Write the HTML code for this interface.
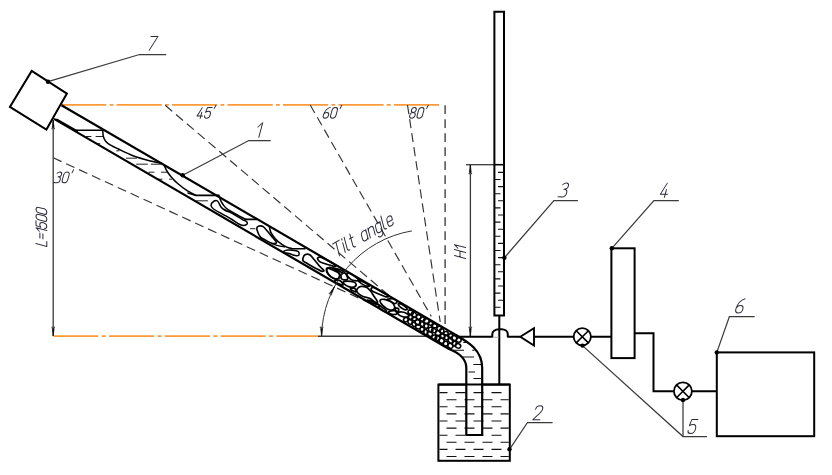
<!DOCTYPE html>
<html><head><meta charset="utf-8"><title>Diagram</title>
<style>
html,body{margin:0;padding:0;background:#fff;font-family:"Liberation Sans",sans-serif;}
svg{display:block}
</style></head>
<body>
<svg width="832" height="475" viewBox="0 0 832 475">
<rect width="832" height="475" fill="#fff"/>
<line x1="61.2" y1="104.85" x2="440" y2="104.85" stroke="#fa9a3a" stroke-width="1.8" stroke-dasharray="45.2 3.2 3.85 3.2"/>
<line x1="53.3" y1="336.2" x2="318" y2="336.2" stroke="#fa9a3a" stroke-width="1.8" stroke-dasharray="45 3.4 4 3.4"/>
<line x1="318" y1="336.3" x2="426" y2="336.3" stroke="#3a3a3a" stroke-width="1.4"/>
<line x1="445.1" y1="105.2" x2="445.1" y2="324.0" stroke="#333" stroke-width="1.3" stroke-dasharray="8.8 5.2"/>
<line x1="407.5" y1="105.0" x2="440.2" y2="322.0" stroke="#333" stroke-width="1.15" stroke-dasharray="9.2 5"/>
<line x1="310.2" y1="105.0" x2="431.3" y2="316.5" stroke="#333" stroke-width="1.15" stroke-dasharray="9.2 5"/>
<line x1="165.2" y1="105.3" x2="391.3" y2="297.5" stroke="#333" stroke-width="1.15" stroke-dasharray="9.2 5"/>
<line x1="53.2" y1="157.8" x2="375.0" y2="305.5" stroke="#333" stroke-width="1.15" stroke-dasharray="9.2 5"/>
<line x1="53.2" y1="120" x2="53.2" y2="336" stroke="#3a3a3a" stroke-width="1.3"/>
<line x1="470.4" y1="165" x2="470.4" y2="336" stroke="#3a3a3a" stroke-width="1.3"/>
<line x1="466" y1="164.7" x2="494" y2="164.7" stroke="#3a3a3a" stroke-width="1.3"/>
<g transform="translate(53.2,120) rotate(0)"><path d="M0,0 L-0.9,7.5 L0.9,7.5 Z" fill="#111" stroke="#111" stroke-width="0.7"/><path d="M-1.8,8.6 H1.8" stroke="#555" stroke-width="1.4"/></g>
<g transform="translate(53.2,336) rotate(180)"><path d="M0,0 L-0.9,7.5 L0.9,7.5 Z" fill="#111" stroke="#111" stroke-width="0.7"/><path d="M-1.8,8.6 H1.8" stroke="#555" stroke-width="1.4"/></g>
<g transform="translate(470.3,165) rotate(0)"><path d="M0,0 L-0.9,7.5 L0.9,7.5 Z" fill="#111" stroke="#111" stroke-width="0.7"/><path d="M-1.8,8.6 H1.8" stroke="#555" stroke-width="1.4"/></g>
<g transform="translate(470.3,336) rotate(180)"><path d="M0,0 L-0.9,7.5 L0.9,7.5 Z" fill="#111" stroke="#111" stroke-width="0.7"/><path d="M-1.8,8.6 H1.8" stroke="#555" stroke-width="1.4"/></g>
<path d="M31.7,70.9 L66.9,93.6 L46.4,129.6 L9.9,106.9 Z" fill="#fff" stroke="#000" stroke-width="2" stroke-linejoin="miter"/>
<rect x="438.4" y="384.6" width="71.4" height="76.2" fill="#fff" stroke="#000" stroke-width="2"/>
<path d="M61.5,105.2 L455,334.4 C468,342.0 482.2,350 482.2,368 V435 H466.3 V368 C466.3,360 462,354 449,349.0 L54.0,118.9" fill="#fff" stroke="none"/>
<line x1="439.5" y1="392.6" x2="508.8" y2="392.6" stroke="#111" stroke-width="1.1" stroke-dasharray="10 8" stroke-dashoffset="2"/>
<line x1="439.5" y1="399.7" x2="508.8" y2="399.7" stroke="#111" stroke-width="1.1" stroke-dasharray="10 8" stroke-dashoffset="11"/>
<line x1="439.5" y1="406.8" x2="508.8" y2="406.8" stroke="#111" stroke-width="1.1" stroke-dasharray="10 8" stroke-dashoffset="2"/>
<line x1="439.5" y1="413.9" x2="508.8" y2="413.9" stroke="#111" stroke-width="1.1" stroke-dasharray="10 8" stroke-dashoffset="11"/>
<line x1="439.5" y1="421.0" x2="508.8" y2="421.0" stroke="#111" stroke-width="1.1" stroke-dasharray="10 8" stroke-dashoffset="2"/>
<line x1="439.5" y1="428.1" x2="508.8" y2="428.1" stroke="#111" stroke-width="1.1" stroke-dasharray="10 8" stroke-dashoffset="11"/>
<line x1="439.5" y1="435.2" x2="508.8" y2="435.2" stroke="#111" stroke-width="1.1" stroke-dasharray="10 8" stroke-dashoffset="2"/>
<line x1="439.5" y1="442.3" x2="508.8" y2="442.3" stroke="#111" stroke-width="1.1" stroke-dasharray="10 8" stroke-dashoffset="11"/>
<line x1="439.5" y1="449.4" x2="508.8" y2="449.4" stroke="#111" stroke-width="1.1" stroke-dasharray="10 8" stroke-dashoffset="2"/>
<line x1="439.5" y1="456.5" x2="508.8" y2="456.5" stroke="#111" stroke-width="1.1" stroke-dasharray="10 8" stroke-dashoffset="11"/>
<line x1="438.4" y1="384.6" x2="509.8" y2="384.6" stroke="#000" stroke-width="2"/>
<path d="M463.3,342.4 H467 M453,350.2 H464 M472.2,350.2 H474.5 M462,357 H474 M473.3,364.5 H481 M468.5,372 H475 M473.5,378.5 H481" stroke="#111" stroke-width="1.1" fill="none"/>
<path d="M75.5,130.3 H102.7" fill="none" stroke="#000" stroke-width="1.6" stroke-linecap="round" stroke-linejoin="round"/>
<path d="M102.7,130.2 C102.8,131.3 102.9,135.0 103.4,136.8 C103.9,138.6 104.6,139.8 105.7,141.2 C106.8,142.5 107.9,143.6 110.1,144.9 C112.3,146.2 115.0,147.5 118.9,149.3 C122.8,151.2 128.7,154.2 133.6,156.0 C138.5,157.8 143.7,159.2 148.4,160.4 C153.1,161.6 159.7,162.9 162.0,163.4" fill="none" stroke="#000" stroke-width="1.5" stroke-linecap="round" stroke-linejoin="round"/>
<path d="M57,119.6 L77,131.2" fill="none" stroke="#000" stroke-width="2.0" stroke-linecap="round" stroke-linejoin="round"/>
<path d="M86.5,136.5 H91 M96,136.5 H102.7 M97.5,143.7 H99.8 M116.7,150.8 H119 M126.3,158.2 H136.6 M136.6,164.2 H147.4 M151.3,164.2 H160.6 M148.8,172.2 H154 M161.4,172.2 H167.2 M157.7,179.2 H162 M169.5,179.2 H171.7 M196.7,200.8 H207.5 M250.5,228.7 H255" fill="none" stroke="#222" stroke-width="1.0" stroke-linecap="round" stroke-linejoin="round"/>
<path d="M164.3,165.6 C164.8,166.6 166.0,169.5 167.2,171.5 C168.4,173.5 169.8,175.3 171.7,177.4 C173.5,179.5 175.7,181.8 178.3,184.0 C180.9,186.2 184.2,188.8 187.1,190.7 C190.0,192.6 194.5,194.5 196.0,195.3" fill="none" stroke="#000" stroke-width="1.5" stroke-linecap="round" stroke-linejoin="round"/>
<path d="M188,193 L196,195.4 H219" fill="none" stroke="#000" stroke-width="1.6" stroke-linecap="round" stroke-linejoin="round"/>
<path d="M219.3,196.5 C219.5,197.1 219.9,198.7 220.5,200.0 C221.1,201.3 222.1,203.2 223.0,204.5 C223.9,205.8 224.5,206.8 226.0,208.0 C227.5,209.2 229.7,210.6 232.0,212.0 C234.3,213.4 237.7,215.2 240.0,216.5 C242.3,217.8 245.0,219.0 246.0,219.5" fill="none" stroke="#000" stroke-width="1.6" stroke-linecap="round" stroke-linejoin="round"/>
<path d="M245.3,219.4 H257" fill="none" stroke="#000" stroke-width="1.6" stroke-linecap="round" stroke-linejoin="round"/>
<path d="M211.0,205.2 C211.0,203.9 212.4,202.2 213.5,201.5 C214.6,200.8 216.2,200.1 217.5,201.0 C218.8,201.9 219.8,205.4 221.0,207.0 C222.2,208.6 223.2,209.2 225.0,210.3 C226.8,211.4 229.2,211.8 232.0,213.3 C234.8,214.8 239.6,217.9 242.0,219.3 C244.4,220.7 245.7,220.7 246.5,221.5 C247.3,222.3 247.7,223.7 246.8,224.3 C245.9,224.9 243.5,225.8 241.0,225.0 C238.5,224.2 235.2,221.4 232.0,219.5 C228.8,217.6 225.1,215.6 222.0,213.8 C218.9,212.1 215.3,210.4 213.5,209.0 C211.7,207.6 211.0,206.4 211.0,205.2 Z" fill="none" stroke="#000" stroke-width="1.5" stroke-linecap="round" stroke-linejoin="round"/>
<path d="M224.5,209.3 L230.5,212" fill="none" stroke="#000" stroke-width="1.0" stroke-linecap="round" stroke-linejoin="round"/>
<path d="M256.8,228.2 C257.0,227.1 257.8,226.4 258.9,226.1 C260.0,225.8 261.7,225.6 263.2,226.6 C264.7,227.6 266.3,230.0 267.9,231.8 C269.5,233.6 271.2,235.9 272.6,237.6 C274.0,239.3 275.9,240.8 276.3,241.8 C276.8,242.8 276.2,243.2 275.3,243.4 C274.4,243.6 272.7,243.4 271.1,242.9 C269.5,242.4 267.6,241.3 265.8,240.3 C264.0,239.3 261.8,238.4 260.5,237.1 C259.2,235.8 258.5,233.9 257.9,232.4 C257.3,230.9 256.6,229.2 256.8,228.2 Z" fill="none" stroke="#000" stroke-width="1.6" stroke-linecap="round" stroke-linejoin="round"/>
<path d="M269.5,227.6 C269.8,228.5 270.1,231.1 271.1,232.9 C272.1,234.8 273.7,236.9 275.3,238.7 C276.9,240.4 278.6,242.0 280.5,243.4 C282.4,244.8 284.9,246.2 286.8,247.1 C288.7,248.0 291.2,248.4 292.1,248.7" fill="none" stroke="#000" stroke-width="1.6" stroke-linecap="round" stroke-linejoin="round"/>
<path d="M292,248.8 H305" fill="none" stroke="#000" stroke-width="1.6" stroke-linecap="round" stroke-linejoin="round"/>
<path d="M272.1,243.6 C273.1,243.9 275.9,245.1 278.0,245.6 C280.1,246.1 283.6,246.6 284.7,246.8" fill="none" stroke="#000" stroke-width="1.3" stroke-linecap="round" stroke-linejoin="round"/>
<path d="M283.7,251.3 C284.3,250.9 285.8,250.0 287.9,249.9 C290.0,249.8 294.5,250.4 296.3,250.8 C298.1,251.2 298.5,251.6 298.9,252.4 C299.2,253.2 299.0,255.0 298.4,255.5 C297.8,256.0 296.9,255.9 295.3,255.6 C293.7,255.3 290.8,254.1 288.9,253.6 C287.0,253.1 285.1,253.0 284.2,252.6 C283.3,252.2 283.1,251.8 283.7,251.3 Z" fill="none" stroke="#000" stroke-width="1.5" stroke-linecap="round" stroke-linejoin="round"/>
<path d="M302.9,258.4 C303.2,257.3 303.9,255.3 305.0,254.7 C306.1,254.1 308.1,253.8 309.7,254.7 C311.3,255.6 312.8,258.1 314.5,260.0 C316.2,261.9 318.1,264.6 319.7,266.3 C321.3,268.1 323.6,269.7 323.9,270.5 C324.2,271.3 322.8,271.5 321.3,271.1 C319.8,270.7 317.3,269.1 315.0,267.9 C312.7,266.7 309.5,264.8 307.6,263.7 C305.7,262.6 304.2,262.0 303.4,261.1 C302.6,260.2 302.6,259.5 302.9,258.4 Z" fill="none" stroke="#000" stroke-width="1.7" stroke-linecap="round" stroke-linejoin="round"/>
<path d="M317.6,257.9 C318.1,257.5 319.5,256.9 321.3,257.4 C323.1,257.9 326.3,259.8 328.7,261.1 C331.1,262.4 334.6,264.4 335.5,265.3 C336.4,266.2 335.4,266.5 333.9,266.3 C332.4,266.1 328.9,264.9 326.6,264.2 C324.3,263.5 321.7,262.8 320.3,262.1 C318.9,261.4 318.6,260.7 318.2,260.0 C317.8,259.3 317.1,258.3 317.6,257.9 Z" fill="none" stroke="#000" stroke-width="1.7" stroke-linecap="round" stroke-linejoin="round"/>
<path d="M326.6,269.5 C327.0,268.6 328.3,267.4 329.7,267.4 C331.1,267.4 333.4,268.4 335.0,269.5 C336.6,270.6 338.6,272.3 339.2,273.7 C339.8,275.1 339.4,277.0 338.7,277.9 C338.0,278.8 336.4,279.2 335.0,278.9 C333.6,278.6 331.6,277.4 330.3,276.3 C329.0,275.2 327.7,273.7 327.1,272.6 C326.5,271.5 326.2,270.4 326.6,269.5 Z" fill="none" stroke="#000" stroke-width="1.7" stroke-linecap="round" stroke-linejoin="round"/>
<path d="M327.1,268.1 C328.6,267.8 335.4,271.2 337.6,272.3 C339.8,273.4 339.9,273.8 340.2,274.8 C340.5,275.8 340.4,277.6 339.3,278.2 C338.2,278.8 335.2,278.9 333.4,278.2 C331.6,277.5 329.4,275.7 328.4,274.0 C327.3,272.3 325.6,268.4 327.1,268.1 Z" fill="none" stroke="#000" stroke-width="1.7" stroke-linecap="round" stroke-linejoin="round"/>
<path d="M333.4,268.1 C333.8,268.0 338.4,269.2 340.2,269.8 C342.0,270.4 344.0,271.4 344.4,271.9 C344.8,272.4 343.8,272.9 342.7,272.7 C341.6,272.5 339.2,271.4 337.6,270.6 C336.1,269.8 333.0,268.2 333.4,268.1 Z" fill="none" stroke="#000" stroke-width="1.7" stroke-linecap="round" stroke-linejoin="round"/>
<path d="M341.8,274.0 C342.5,273.5 344.2,272.5 345.2,273.2 C346.2,273.9 347.5,277.1 347.7,278.2 C347.9,279.3 347.1,279.8 346.1,279.9 C345.1,280.0 342.7,279.7 341.8,279.1 C340.9,278.5 341.0,277.0 341.0,276.1 C341.0,275.2 341.1,274.5 341.8,274.0 Z" fill="none" stroke="#000" stroke-width="1.7" stroke-linecap="round" stroke-linejoin="round"/>
<path d="M346.9,273.2 C347.4,272.9 348.6,272.8 350.3,273.6 C352.0,274.4 355.6,277.1 357.0,278.2 C358.4,279.3 359.4,279.9 358.7,280.3 C358.0,280.7 354.4,280.7 352.8,280.3 C351.2,279.9 350.3,279.0 349.4,278.2 C348.5,277.4 347.7,276.5 347.3,275.7 C346.9,274.9 346.4,273.5 346.9,273.2 Z" fill="none" stroke="#000" stroke-width="1.7" stroke-linecap="round" stroke-linejoin="round"/>
<path d="M343.1,282.0 C343.5,281.5 345.1,281.2 346.9,281.2 C348.6,281.2 352.1,281.4 353.6,282.0 C355.2,282.6 356.2,283.6 356.2,284.5 C356.2,285.4 354.9,286.8 353.6,287.1 C352.3,287.5 350.1,287.1 348.6,286.6 C347.1,286.1 345.3,284.9 344.4,284.1 C343.5,283.3 342.7,282.5 343.1,282.0 Z" fill="none" stroke="#000" stroke-width="1.7" stroke-linecap="round" stroke-linejoin="round"/>
<path d="M335.1,280.3 C335.8,280.0 338.9,279.9 340.2,280.7 C341.5,281.5 343.2,284.3 343.1,284.9 C343.0,285.5 340.9,284.5 339.7,284.1 C338.5,283.7 336.7,283.0 335.9,282.4 C335.1,281.8 334.4,280.6 335.1,280.3 Z" fill="none" stroke="#000" stroke-width="1.7" stroke-linecap="round" stroke-linejoin="round"/>
<path d="M357.8,280.3 C358.0,280.0 361.0,280.8 362.9,281.6 C364.8,282.4 368.2,284.5 369.0,285.3 C369.8,286.1 368.8,286.6 367.5,286.3 C366.2,286.0 363.1,284.6 361.5,283.6 C359.9,282.6 357.6,280.6 357.8,280.3 Z" fill="none" stroke="#000" stroke-width="1.7" stroke-linecap="round" stroke-linejoin="round"/>
<path d="M350.3,288.7 C350.6,288.3 353.5,287.8 354.5,288.3 C355.5,288.8 356.5,291.3 356.2,291.7 C355.9,292.1 353.8,291.3 352.8,290.8 C351.8,290.3 350.0,289.1 350.3,288.7 Z" fill="none" stroke="#000" stroke-width="1.7" stroke-linecap="round" stroke-linejoin="round"/>
<path d="M357.2,288.9 C357.8,287.9 359.3,286.6 360.9,286.4 C362.5,286.2 365.2,286.8 366.8,287.6 C368.4,288.4 369.2,289.5 370.5,291.0 C371.8,292.5 373.1,295.0 374.3,296.8 C375.5,298.6 377.5,301.0 377.6,301.9 C377.7,302.8 376.4,302.9 375.1,302.3 C373.9,301.7 372.2,299.5 370.1,298.5 C368.0,297.5 364.5,297.2 362.4,296.2 C360.3,295.2 358.3,293.8 357.4,292.6 C356.5,291.4 356.6,289.9 357.2,288.9 Z" fill="none" stroke="#000" stroke-width="1.7" stroke-linecap="round" stroke-linejoin="round"/>
<path d="M371.3,288.4 C371.7,287.8 372.6,287.0 374.3,287.6 C376.1,288.2 379.4,290.5 381.8,291.8 C384.2,293.1 387.9,294.8 388.6,295.6 C389.3,296.4 387.9,297.2 386.1,296.8 C384.3,296.4 379.9,294.5 377.6,293.5 C375.3,292.5 373.2,291.8 372.2,290.9 C371.1,290.0 370.9,288.9 371.3,288.4 Z" fill="none" stroke="#000" stroke-width="1.7" stroke-linecap="round" stroke-linejoin="round"/>
<path d="M380.2,300.2 C380.8,299.6 382.6,299.1 384.4,299.4 C386.2,299.7 389.4,300.8 391.1,301.9 C392.8,303.0 394.1,304.8 394.5,306.1 C394.9,307.4 394.6,308.9 393.6,309.5 C392.6,310.1 390.3,310.1 388.6,309.5 C386.9,308.9 384.8,307.2 383.5,306.1 C382.2,305.0 381.2,303.7 380.6,302.7 C380.1,301.7 379.6,300.8 380.2,300.2 Z" fill="none" stroke="#000" stroke-width="1.7" stroke-linecap="round" stroke-linejoin="round"/>
<path d="M387.3,299.4 C387.7,299.0 392.0,298.5 393.6,298.9 C395.2,299.3 396.9,301.1 397.0,301.9 C397.1,302.7 395.5,303.7 394.5,303.6 C393.5,303.5 392.3,302.2 391.1,301.5 C389.9,300.8 386.9,299.8 387.3,299.4 Z" fill="none" stroke="#000" stroke-width="1.7" stroke-linecap="round" stroke-linejoin="round"/>
<path d="M398.7,303.6 C399.3,303.5 400.7,303.6 402.1,304.4 C403.5,305.2 406.6,307.7 407.1,308.6 C407.7,309.5 406.4,310.0 405.4,309.9 C404.4,309.8 402.3,308.6 401.2,307.8 C400.1,307.0 399.1,306.0 398.7,305.3 C398.3,304.6 398.1,303.8 398.7,303.6 Z" fill="none" stroke="#000" stroke-width="1.7" stroke-linecap="round" stroke-linejoin="round"/>
<path d="M388.6,311.6 C389.3,311.1 393.1,310.4 394.5,310.7 C395.9,311.0 397.1,313.1 397.0,313.7 C396.9,314.3 394.7,314.5 393.6,314.5 C392.5,314.5 391.1,314.2 390.3,313.7 C389.5,313.2 387.9,312.1 388.6,311.6 Z" fill="none" stroke="#000" stroke-width="1.7" stroke-linecap="round" stroke-linejoin="round"/>
<path d="M397.8,312.8 C398.2,312.2 400.6,311.9 402.1,312.0 C403.7,312.1 406.0,313.0 407.1,313.7 C408.2,314.4 409.2,315.6 408.8,316.2 C408.4,316.8 406.2,317.2 404.6,317.1 C403.1,317.0 400.6,316.1 399.5,315.4 C398.4,314.7 397.4,313.4 397.8,312.8 Z" fill="none" stroke="#000" stroke-width="1.7" stroke-linecap="round" stroke-linejoin="round"/>
<path d="M367.5,300.2 C368.2,300.1 372.6,301.3 374.3,301.9 C376.0,302.5 377.2,303.2 377.6,303.6 C378.0,304.0 378.1,304.6 376.8,304.4 C375.6,304.2 371.7,303.0 370.1,302.3 C368.6,301.6 366.8,300.3 367.5,300.2 Z" fill="none" stroke="#000" stroke-width="1.7" stroke-linecap="round" stroke-linejoin="round"/>
<path d="M395.3,307.8 C395.8,307.6 398.3,308.5 398.7,309.1 C399.1,309.7 398.3,311.4 397.8,311.6 C397.3,311.8 396.1,310.9 395.7,310.3 C395.3,309.7 394.8,308.0 395.3,307.8 Z" fill="none" stroke="#000" stroke-width="1.7" stroke-linecap="round" stroke-linejoin="round"/>
<path d="M378.5,304.5 C378.9,304.3 381.2,306.5 382.5,307.5 C383.8,308.5 386.2,309.8 386.5,310.5 C386.8,311.2 385.6,311.8 384.5,311.5 C383.4,311.2 381.0,309.7 380.0,308.5 C379.0,307.3 378.1,304.7 378.5,304.5 Z" fill="none" stroke="#000" stroke-width="1.7" stroke-linecap="round" stroke-linejoin="round"/>
<ellipse cx="410.7" cy="312.3" rx="2.8" ry="2.1" transform="rotate(31 410.7 312.3)" fill="none" stroke="#000" stroke-width="1.55"/>
<ellipse cx="410.7" cy="317.1" rx="2.5" ry="2.2" transform="rotate(53 410.7 317.1)" fill="none" stroke="#000" stroke-width="1.55"/>
<ellipse cx="405.8" cy="319.7" rx="2.1" ry="2.3" transform="rotate(45 405.8 319.7)" fill="none" stroke="#000" stroke-width="1.55"/>
<ellipse cx="413.9" cy="314.7" rx="2.9" ry="2.2" transform="rotate(39 413.9 314.7)" fill="none" stroke="#000" stroke-width="1.55"/>
<ellipse cx="414.3" cy="318.9" rx="2.5" ry="1.8" transform="rotate(5 414.3 318.9)" fill="none" stroke="#000" stroke-width="1.55"/>
<ellipse cx="410.1" cy="321.8" rx="2.4" ry="2.1" transform="rotate(57 410.1 321.8)" fill="none" stroke="#000" stroke-width="1.55"/>
<ellipse cx="418.6" cy="317.0" rx="2.4" ry="2.2" transform="rotate(27 418.6 317.0)" fill="none" stroke="#000" stroke-width="1.55"/>
<ellipse cx="417.8" cy="322.4" rx="2.9" ry="2.3" transform="rotate(47 417.8 322.4)" fill="none" stroke="#000" stroke-width="1.55"/>
<ellipse cx="414.0" cy="324.4" rx="2.3" ry="1.8" transform="rotate(51 414.0 324.4)" fill="none" stroke="#000" stroke-width="1.55"/>
<ellipse cx="422.4" cy="319.5" rx="2.3" ry="2.4" transform="rotate(58 422.4 319.5)" fill="none" stroke="#000" stroke-width="1.55"/>
<ellipse cx="421.9" cy="323.7" rx="2.8" ry="2.1" transform="rotate(68 421.9 323.7)" fill="none" stroke="#000" stroke-width="1.55"/>
<ellipse cx="418.2" cy="326.6" rx="2.6" ry="2.3" transform="rotate(12 418.2 326.6)" fill="none" stroke="#000" stroke-width="1.55"/>
<ellipse cx="426.3" cy="321.0" rx="2.9" ry="2.3" transform="rotate(-1 426.3 321.0)" fill="none" stroke="#000" stroke-width="1.55"/>
<ellipse cx="426.3" cy="326.0" rx="2.1" ry="2.3" transform="rotate(4 426.3 326.0)" fill="none" stroke="#000" stroke-width="1.55"/>
<ellipse cx="422.1" cy="329.4" rx="2.2" ry="2.2" transform="rotate(0 422.1 329.4)" fill="none" stroke="#000" stroke-width="1.55"/>
<ellipse cx="431.0" cy="323.5" rx="2.4" ry="1.9" transform="rotate(12 431.0 323.5)" fill="none" stroke="#000" stroke-width="1.55"/>
<ellipse cx="430.7" cy="329.6" rx="2.3" ry="2.3" transform="rotate(7 430.7 329.6)" fill="none" stroke="#000" stroke-width="1.55"/>
<ellipse cx="425.7" cy="332.1" rx="2.6" ry="1.9" transform="rotate(69 425.7 332.1)" fill="none" stroke="#000" stroke-width="1.55"/>
<ellipse cx="434.4" cy="325.7" rx="2.7" ry="2.0" transform="rotate(14 434.4 325.7)" fill="none" stroke="#000" stroke-width="1.55"/>
<ellipse cx="434.0" cy="330.5" rx="2.5" ry="1.9" transform="rotate(38 434.0 330.5)" fill="none" stroke="#000" stroke-width="1.55"/>
<ellipse cx="429.9" cy="333.9" rx="2.9" ry="2.1" transform="rotate(36 429.9 333.9)" fill="none" stroke="#000" stroke-width="1.55"/>
<ellipse cx="439.2" cy="328.4" rx="2.1" ry="2.3" transform="rotate(55 439.2 328.4)" fill="none" stroke="#000" stroke-width="1.55"/>
<ellipse cx="438.1" cy="333.1" rx="2.7" ry="2.4" transform="rotate(6 438.1 333.1)" fill="none" stroke="#000" stroke-width="1.55"/>
<ellipse cx="434.3" cy="337.1" rx="2.5" ry="2.1" transform="rotate(-2 434.3 337.1)" fill="none" stroke="#000" stroke-width="1.55"/>
<ellipse cx="441.7" cy="330.9" rx="2.2" ry="2.2" transform="rotate(11 441.7 330.9)" fill="none" stroke="#000" stroke-width="1.55"/>
<ellipse cx="442.6" cy="336.2" rx="2.3" ry="1.9" transform="rotate(48 442.6 336.2)" fill="none" stroke="#000" stroke-width="1.55"/>
<ellipse cx="437.6" cy="338.1" rx="2.5" ry="2.3" transform="rotate(39 437.6 338.1)" fill="none" stroke="#000" stroke-width="1.55"/>
<ellipse cx="446.0" cy="333.3" rx="2.2" ry="1.8" transform="rotate(12 446.0 333.3)" fill="none" stroke="#000" stroke-width="1.55"/>
<ellipse cx="446.4" cy="337.7" rx="2.2" ry="2.0" transform="rotate(36 446.4 337.7)" fill="none" stroke="#000" stroke-width="1.55"/>
<ellipse cx="441.5" cy="340.6" rx="2.8" ry="2.4" transform="rotate(43 441.5 340.6)" fill="none" stroke="#000" stroke-width="1.55"/>
<ellipse cx="450.7" cy="335.6" rx="2.1" ry="1.8" transform="rotate(-9 450.7 335.6)" fill="none" stroke="#000" stroke-width="1.55"/>
<ellipse cx="450.6" cy="341.0" rx="2.9" ry="1.8" transform="rotate(41 450.6 341.0)" fill="none" stroke="#000" stroke-width="1.55"/>
<ellipse cx="445.7" cy="343.6" rx="2.3" ry="2.4" transform="rotate(-4 445.7 343.6)" fill="none" stroke="#000" stroke-width="1.55"/>
<ellipse cx="454.4" cy="338.0" rx="2.8" ry="2.2" transform="rotate(46 454.4 338.0)" fill="none" stroke="#000" stroke-width="1.55"/>
<ellipse cx="454.3" cy="343.5" rx="2.3" ry="2.2" transform="rotate(62 454.3 343.5)" fill="none" stroke="#000" stroke-width="1.55"/>
<ellipse cx="450.4" cy="345.8" rx="2.7" ry="2.3" transform="rotate(36 450.4 345.8)" fill="none" stroke="#000" stroke-width="1.55"/>
<ellipse cx="458.7" cy="340.0" rx="2.5" ry="2.2" transform="rotate(-4 458.7 340.0)" fill="none" stroke="#000" stroke-width="1.55"/>
<ellipse cx="458.0" cy="345.8" rx="2.8" ry="2.2" transform="rotate(21 458.0 345.8)" fill="none" stroke="#000" stroke-width="1.55"/>
<path d="M61.5,105.2 L455,334.4 C468,342.0 482.2,350 482.2,368 V435 H466.3 V368 C466.3,360 462,354 449,349.0 L54.0,118.9" fill="none" stroke="#000" stroke-width="2.2" stroke-linejoin="round"/>
<path d="M494.4,315.5 V11.8 H504 V315.5 Z" fill="none" stroke="#000" stroke-width="2"/>
<line x1="494.4" y1="164.7" x2="504" y2="164.7" stroke="#000" stroke-width="1.6"/>
<path d="M498,172.4 H504 M494.4,179.5 H500.5 M498,186.6 H504 M494.4,193.7 H500.5 M498,200.8 H504 M494.4,207.9 H500.5 M498,215.0 H504 M494.4,222.1 H500.5 M498,229.2 H504 M494.4,236.3 H500.5 M498,243.4 H504 M494.4,250.5 H500.5 M498,257.6 H504 M494.4,264.7 H500.5 M498,271.8 H504 M494.4,278.9 H500.5 M498,286.0 H504 M494.4,293.1 H500.5 M498,300.2 H504 M494.4,307.3 H500.5" stroke="#111" stroke-width="1.1"/>
<line x1="499.3" y1="315.5" x2="499.3" y2="384.8" stroke="#000" stroke-width="2"/>
<path d="M459,336.8 H492.3 V334 C492.3,331.5 495,329.3 499,329.3 H501.5 C505,329.3 507.8,331.2 507.8,334.5 V336.8 H520" fill="none" stroke="#000" stroke-width="2" stroke-linejoin="round"/>
<path d="M492.3,337.3 H499" stroke="#999" stroke-width="0.8"/>
<path d="M520.3,336.8 L534,328.3 V345.6 Z" fill="#fff" stroke="#000" stroke-width="1.9" stroke-linejoin="miter"/>
<path d="M534.2,336.8 H573.7 M590.9,336.8 H611.2" stroke="#000" stroke-width="2"/>
<circle cx="582.3" cy="336.8" r="8.6" fill="#fff" stroke="#000" stroke-width="1.8"/>
<path d="M576.2,330.7 L588.4,342.9 M576.2,342.9 L588.4,330.7" stroke="#000" stroke-width="1.6"/>
<rect x="611.4" y="248.3" width="23.2" height="109.8" fill="#fff" stroke="#000" stroke-width="2"/>
<path d="M634.6,333.3 H653.5 V391.2 H673.9 M691.9,391.2 H716.8" fill="none" stroke="#000" stroke-width="2"/>
<circle cx="682.9" cy="391.3" r="9" fill="#fff" stroke="#000" stroke-width="1.8"/>
<path d="M676.5,384.9 L689.3,397.7 M676.5,397.7 L689.3,384.9" stroke="#000" stroke-width="1.6"/>
<rect x="716.8" y="352.4" width="97.4" height="83.8" fill="#fff" stroke="#000" stroke-width="2"/>
<path d="M48.0,81.7 L139.5,54.5 L166.2,54.5" fill="none" stroke="#3a3a3a" stroke-width="1.25"/>
<circle cx="48" cy="81.7" r="2.2" fill="#000"/>
<path d="M182.7,175.2 L248.8,140.5 L270.7,140.5" fill="none" stroke="#3a3a3a" stroke-width="1.25"/>
<circle cx="182.7" cy="175.2" r="2.2" fill="#000"/>
<path d="M504.4,257.7 L553.9,200.5 L577.9,200.5" fill="none" stroke="#3a3a3a" stroke-width="1.25"/>
<circle cx="504.4" cy="257.7" r="2.2" fill="#000"/>
<path d="M611.8,248.3 L653.9,200.5 L678.8,200.5" fill="none" stroke="#3a3a3a" stroke-width="1.25"/>
<circle cx="611.8" cy="248.3" r="2.2" fill="#000"/>
<path d="M716.8,352.4 L729.4,316.5 L754.7,316.5" fill="none" stroke="#3a3a3a" stroke-width="1.25"/>
<circle cx="716.8" cy="352.4" r="2.2" fill="#000"/>
<path d="M582.5,345.6 L683.0,436.5 L707.0,436.5" fill="none" stroke="#3a3a3a" stroke-width="1.25"/>
<circle cx="582.5" cy="345.6" r="2.2" fill="#000"/>
<path d="M683.0,400.0 L683.0,436.5" fill="none" stroke="#3a3a3a" stroke-width="1.25"/>
<circle cx="683" cy="400" r="2.2" fill="#000"/>
<path d="M509.5,449.3 L527.5,422.5 L552.6,422.5" fill="none" stroke="#3a3a3a" stroke-width="1.25"/>
<circle cx="509.5" cy="449.3" r="2.2" fill="#000"/>
<path d="M321.6,336.3 A108.4,108.4 0 0 1 411.9,230.9" fill="none" stroke="#333" stroke-width="1"/>
<g transform="translate(321.6,336) rotate(180)"><path d="M0,0 L-0.9,7.5 L0.9,7.5 Z" fill="#111" stroke="#111" stroke-width="0.7"/><path d="M-1.8,8.6 H1.8" stroke="#555" stroke-width="1.4"/></g>
<g transform="translate(334.55625487960685,286.4088381392926) rotate(28.3)"><path d="M0,0 L-0.9,7.5 L0.9,7.5 Z" fill="#111" stroke="#111" stroke-width="0.7"/><path d="M-1.8,8.6 H1.8" stroke="#555" stroke-width="1.4"/></g>
<g transform="translate(147.20,50.40) rotate(0) scale(1.4000) skewX(-15) translate(0,-10)" fill="none" stroke="#2a2a38" stroke-width="0.714" stroke-linecap="round" stroke-linejoin="round">
<path transform="translate(0.00,0)" d="M0,0 H5 L1.4,10"/>
</g>
<g transform="translate(255.20,137.20) rotate(0) scale(1.4500) skewX(-15) translate(0,-10)" fill="none" stroke="#2a2a38" stroke-width="0.690" stroke-linecap="round" stroke-linejoin="round">
<path transform="translate(0.00,0)" d="M0,3 L2.5,0 V10"/>
</g>
<g transform="translate(558.60,197.00) rotate(0) scale(1.4000) skewX(-15) translate(0,-10)" fill="none" stroke="#2a2a38" stroke-width="0.714" stroke-linecap="round" stroke-linejoin="round">
<path transform="translate(0.00,0)" d="M0.6,1.2 C1,0.4 1.8,0 2.8,0 C4.1,0 4.9,0.9 4.9,2.2 C4.9,3.6 3.9,4.5 2.3,4.5 C4,4.5 5,5.6 5,7.2 C5,8.9 4,10 2.5,10 C1.2,10 0.3,9.6 -0.6,9.9"/>
</g>
<g transform="translate(659.50,197.30) rotate(0) scale(1.4000) skewX(-15) translate(0,-10)" fill="none" stroke="#2a2a38" stroke-width="0.714" stroke-linecap="round" stroke-linejoin="round">
<path transform="translate(0.00,0)" d="M2.8,0 L0,7.9 H5.1 M3.5,4.5 V10"/>
</g>
<g transform="translate(734.80,313.00) rotate(0) scale(1.4000) skewX(-15) translate(0,-10)" fill="none" stroke="#2a2a38" stroke-width="0.714" stroke-linecap="round" stroke-linejoin="round">
<path transform="translate(0.00,0)" d="M4.6,-0.2 C2.4,0.5 0.3,3 0,7 C0,9 1,10 2.5,10 C4,10 5,9 5,7.3 C5,5.6 4,4.6 2.6,4.6 C1.4,4.6 0.4,5.3 0.1,6.5"/>
</g>
<g transform="translate(687.30,433.50) rotate(0) scale(1.4000) skewX(-15) translate(0,-10)" fill="none" stroke="#2a2a38" stroke-width="0.714" stroke-linecap="round" stroke-linejoin="round">
<path transform="translate(0.00,0)" d="M5,0 H0.6 L0,4.4 C0.8,3.8 1.6,3.5 2.6,3.5 C4,3.5 5,4.8 5,6.8 C5,8.8 4,10 2.5,10 C1,10 0,9 0,7.8"/>
</g>
<g transform="translate(532.80,419.70) rotate(0) scale(1.4000) skewX(-15) translate(0,-10)" fill="none" stroke="#2a2a38" stroke-width="0.714" stroke-linecap="round" stroke-linejoin="round">
<path transform="translate(0.00,0)" d="M0,2.5 C0,1 1,0 2.5,0 C4,0 5,1 5,2.5 C5,4.5 3,6 0,10 H5"/>
</g>
<g transform="translate(196.50,118.20) rotate(0) scale(1.0600) skewX(-15) translate(0,-10)" fill="none" stroke="#2a2a38" stroke-width="0.943" stroke-linecap="round" stroke-linejoin="round">
<path transform="translate(0.00,0)" d="M2.8,0 L0,7.9 H5.1 M3.5,4.5 V10"/>
<path transform="translate(7.10,0)" d="M5,0 H0.6 L0,4.4 C0.8,3.8 1.6,3.5 2.6,3.5 C4,3.5 5,4.8 5,6.8 C5,8.8 4,10 2.5,10 C1,10 0,9 0,7.8"/>
<path transform="translate(14.10,0)" d="M0.9,-2.2 L0.2,0.8"/>
</g>
<g transform="translate(322.50,118.20) rotate(0) scale(1.0600) skewX(-15) translate(0,-10)" fill="none" stroke="#2a2a38" stroke-width="0.943" stroke-linecap="round" stroke-linejoin="round">
<path transform="translate(0.00,0)" d="M4.6,-0.2 C2.4,0.5 0.3,3 0,7 C0,9 1,10 2.5,10 C4,10 5,9 5,7.3 C5,5.6 4,4.6 2.6,4.6 C1.4,4.6 0.4,5.3 0.1,6.5"/>
<path transform="translate(7.00,0)" d="M2.5,0 C1,0 0,1 0,2.5 V7.5 C0,9 1,10 2.5,10 C4,10 5,9 5,7.5 V2.5 C5,1 4,0 2.5,0 Z"/>
<path transform="translate(14.00,0)" d="M0.9,-2.2 L0.2,0.8"/>
</g>
<g transform="translate(409.00,118.20) rotate(0) scale(1.0600) skewX(-15) translate(0,-10)" fill="none" stroke="#2a2a38" stroke-width="0.943" stroke-linecap="round" stroke-linejoin="round">
<path transform="translate(0.00,0)" d="M2.5,0 C1,0 0.3,1 0.3,2.3 C0.3,3.6 1,4.6 2.5,4.6 C4,4.6 4.7,3.6 4.7,2.3 C4.7,1 4,0 2.5,0 Z M2.5,4.6 C1,4.6 0,5.6 0,7.3 C0,9 1,10 2.5,10 C4,10 5,9 5,7.3 C5,5.6 4,4.6 2.5,4.6 Z"/>
<path transform="translate(7.00,0)" d="M2.5,0 C1,0 0,1 0,2.5 V7.5 C0,9 1,10 2.5,10 C4,10 5,9 5,7.5 V2.5 C5,1 4,0 2.5,0 Z"/>
<path transform="translate(14.00,0)" d="M0.9,-2.2 L0.2,0.8"/>
</g>
<g transform="translate(54.00,182.80) rotate(0) scale(1.0800) skewX(-15) translate(0,-10)" fill="none" stroke="#2a2a38" stroke-width="0.926" stroke-linecap="round" stroke-linejoin="round">
<path transform="translate(0.00,0)" d="M0.6,1.2 C1,0.4 1.8,0 2.8,0 C4.1,0 4.9,0.9 4.9,2.2 C4.9,3.6 3.9,4.5 2.3,4.5 C4,4.5 5,5.6 5,7.2 C5,8.9 4,10 2.5,10 C1.2,10 0.3,9.6 -0.6,9.9"/>
<path transform="translate(7.00,0)" d="M2.5,0 C1,0 0,1 0,2.5 V7.5 C0,9 1,10 2.5,10 C4,10 5,9 5,7.5 V2.5 C5,1 4,0 2.5,0 Z"/>
<path transform="translate(14.00,0)" d="M0.9,-2.2 L0.2,0.8"/>
</g>
<g transform="translate(46.80,246.50) rotate(-90) scale(1.0800) skewX(-15) translate(0,-10)" fill="none" stroke="#2a2a38" stroke-width="0.926" stroke-linecap="round" stroke-linejoin="round">
<path transform="translate(0.00,0)" d="M0,0 V10 H4.6"/>
<path transform="translate(6.10,0)" d="M0,3.6 H4.6 M0,6.4 H4.6"/>
<path transform="translate(12.20,0)" d="M0,3 L2.5,0 V10"/>
<path transform="translate(16.20,0)" d="M5,0 H0.6 L0,4.4 C0.8,3.8 1.6,3.5 2.6,3.5 C4,3.5 5,4.8 5,6.8 C5,8.8 4,10 2.5,10 C1,10 0,9 0,7.8"/>
<path transform="translate(22.70,0)" d="M2.5,0 C1,0 0,1 0,2.5 V7.5 C0,9 1,10 2.5,10 C4,10 5,9 5,7.5 V2.5 C5,1 4,0 2.5,0 Z"/>
<path transform="translate(29.20,0)" d="M2.5,0 C1,0 0,1 0,2.5 V7.5 C0,9 1,10 2.5,10 C4,10 5,9 5,7.5 V2.5 C5,1 4,0 2.5,0 Z"/>
</g>
<g transform="translate(465.50,258.50) rotate(-90) scale(1.1000) skewX(-15) translate(0,-10)" fill="none" stroke="#2a2a38" stroke-width="0.909" stroke-linecap="round" stroke-linejoin="round">
<path transform="translate(0.00,0)" d="M0,0 V10 M5.4,0 V10 M0,5 H5.4"/>
<path transform="translate(7.40,0)" d="M0,3 L2.5,0 V10"/>
</g>
<g transform="translate(336.20,257.60) rotate(-30) scale(1.3600) skewX(-15) translate(0,-10)" fill="none" stroke="#2a2a38" stroke-width="0.735" stroke-linecap="round" stroke-linejoin="round">
<path transform="translate(0.00,0)" d="M0,0 H5.6 M2.8,0 V10"/>
<path transform="translate(7.40,0)" d="M0.3,3 V10 M0.3,0 V1"/>
<path transform="translate(9.80,0)" d="M0,0 V8.3 C0,9.4 0.6,10 1.8,10"/>
<path transform="translate(13.40,0)" d="M1.2,0 V8.3 C1.2,9.4 1.8,10 3,10 M0,3 H3"/>
<path transform="translate(23.00,0)" d="M4.2,3 V10 M4.2,5 C4.2,3.8 3.3,3 2.1,3 C0.9,3 0,3.8 0,5 V8 C0,9.2 0.9,10 2.1,10 C3.3,10 4.2,9.2 4.2,8"/>
<path transform="translate(29.00,0)" d="M0,3 V10 M0,5 C0,3.8 0.9,3 2.1,3 C3.3,3 4.2,3.8 4.2,5 V10"/>
<path transform="translate(35.00,0)" d="M4.2,3 V11 C4.2,12.3 3.3,13 2.1,13 C1.2,13 0.5,12.6 0.2,12 M4.2,5 C4.2,3.8 3.3,3 2.1,3 C0.9,3 0,3.8 0,5 V8 C0,9.2 0.9,10 2.1,10 C3.3,10 4.2,9.2 4.2,8"/>
<path transform="translate(41.00,0)" d="M0,0 V8.3 C0,9.4 0.6,10 1.8,10"/>
<path transform="translate(44.60,0)" d="M0,6.5 H4.2 V5 C4.2,3.8 3.3,3 2.1,3 C0.9,3 0,3.8 0,5 V8 C0,9.2 0.9,10 2.1,10 C3.3,10 4.2,9.2 4.2,8.4"/>
</g>
</svg>
</body></html>
